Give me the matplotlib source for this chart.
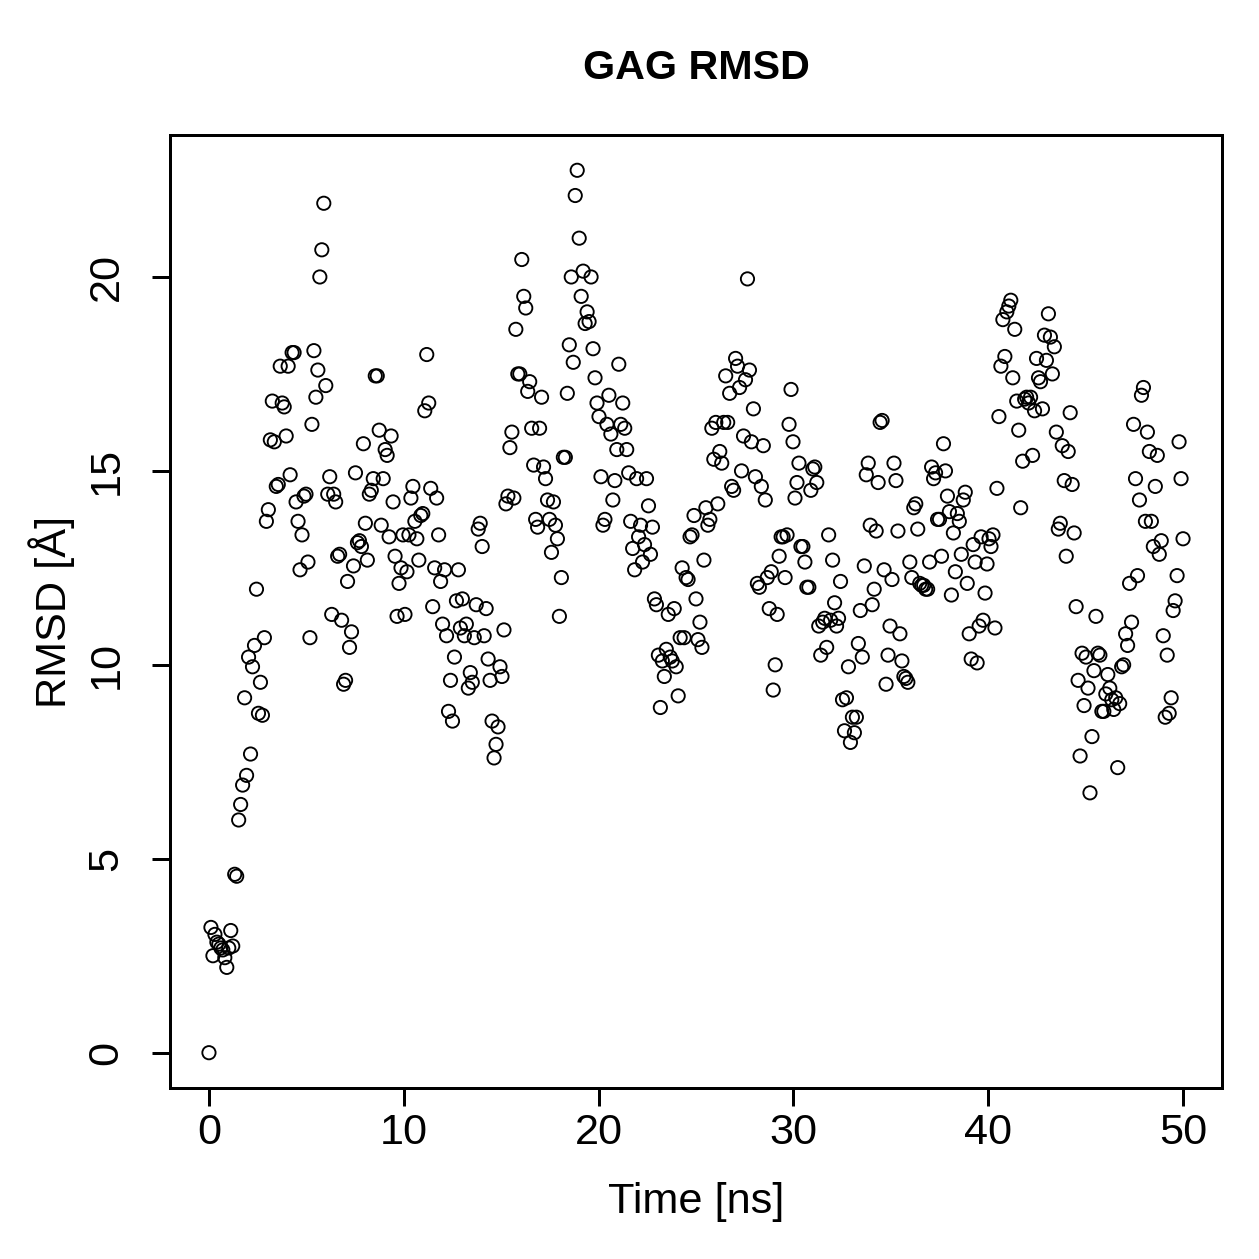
import numpy as np
import matplotlib
matplotlib.use("Agg")
import matplotlib.pyplot as plt

plt.rcParams['font.family'] = ['Liberation Sans', 'DejaVu Sans']

title = "GAG RMSD"
xlabel = "Time [ns]"
ylabel = "RMSD [Å]"
xticks = [0, 10, 20, 30, 40, 50]
yticks = [0, 5, 10, 15, 20]

rmsd = [
    0.0, 3.23, 2.5, 3.05, 2.85, 2.8, 2.7, 2.65, 2.45, 2.2,
    2.7, 3.15, 2.75, 4.6, 4.55, 6.0, 6.4, 6.9, 9.15, 7.15,
    10.2, 7.7, 9.95, 10.5, 11.95, 8.75, 9.55, 8.7, 10.7, 13.7,
    14.0, 15.8, 16.8, 15.75, 14.6, 14.65, 17.7, 16.75, 16.65, 15.9,
    17.7, 14.9, 18.05, 18.05, 14.2, 13.7, 12.45, 13.35, 14.35, 14.4,
    12.65, 10.7, 16.2, 18.1, 16.9, 17.6, 20.0, 20.7, 21.9, 17.2,
    14.4, 14.85, 11.3, 14.4, 14.2, 12.8, 12.85, 11.15, 9.5, 9.6,
    12.15, 10.45, 10.85, 12.55, 14.95, 13.15, 13.2, 13.05, 15.7, 13.65,
    12.7, 14.4, 14.5, 14.8, 17.45, 17.45, 16.05, 13.6, 14.8, 15.55,
    15.4, 13.3, 15.9, 14.2, 12.8, 11.25, 12.1, 12.5, 13.35, 11.3,
    12.4, 13.35, 14.3, 14.6, 13.7, 13.25, 12.7, 13.85, 13.9, 16.55,
    18.0, 16.75, 14.55, 11.5, 12.5, 14.3, 13.35, 12.15, 11.05, 12.45,
    10.75, 8.8, 9.6, 8.55, 10.2, 11.65, 12.45, 10.95, 11.7, 10.75,
    11.05, 9.4, 9.8, 9.55, 10.7, 11.55, 13.5, 13.65, 13.05, 10.75,
    11.45, 10.15, 9.6, 8.55, 7.6, 7.95, 8.4, 9.95, 9.7, 10.9,
    14.15, 14.35, 15.6, 16.0, 14.3, 18.65, 17.5, 17.5, 20.45, 19.5,
    19.2, 17.05, 17.3, 16.1, 15.15, 13.75, 13.55, 16.1, 16.9, 15.1,
    14.8, 14.25, 13.75, 12.9, 14.2, 13.6, 13.25, 11.25, 12.25, 15.35,
    15.35, 17.0, 18.25, 20.0, 17.8, 22.1, 22.75, 21.0, 19.5, 20.15,
    18.8, 19.1, 18.85, 20.0, 18.15, 17.4, 16.75, 16.4, 14.85, 13.6,
    13.75, 16.2, 16.95, 15.95, 14.25, 14.75, 15.55, 17.75, 16.2, 16.75,
    16.1, 15.55, 14.95, 13.7, 13.0, 12.45, 14.8, 13.3, 13.6, 12.65,
    13.1, 14.8, 14.1, 12.85, 13.55, 11.7, 11.55, 10.25, 8.9, 10.1,
    9.7, 10.4, 11.3, 10.2, 10.1, 11.45, 9.95, 9.2, 10.7, 12.5,
    10.7, 12.25, 12.2, 13.3, 13.35, 13.85, 11.7, 10.65, 11.1, 10.45,
    12.7, 14.05, 13.6, 13.75, 16.1, 15.3, 16.25, 14.15, 15.5, 15.2,
    16.25, 17.45, 16.25, 17.0, 14.6, 14.5, 17.9, 17.7, 17.15, 15.0,
    15.9, 17.35, 19.95, 17.6, 15.75, 16.6, 14.85, 12.1, 12.0, 14.6,
    15.65, 14.25, 12.25, 11.45, 12.4, 9.35, 10.0, 11.3, 12.8, 13.3,
    13.3, 12.25, 13.35, 16.2, 17.1, 15.75, 14.3, 14.7, 15.2, 13.05,
    13.05, 12.65, 12.0, 12.0, 14.5, 15.05, 15.1, 14.7, 11.0, 10.25,
    11.1, 11.2, 10.45, 13.35, 11.15, 12.7, 11.6, 11.0, 11.2, 12.15,
    9.1, 8.3, 9.15, 9.95, 8.0, 8.65, 8.25, 8.65, 10.55, 11.4,
    10.2, 12.55, 14.9, 15.2, 13.6, 11.55, 11.95, 13.45, 14.7, 16.25,
    16.3, 12.45, 9.5, 10.25, 11.0, 12.2, 15.2, 14.75, 13.45, 10.8,
    10.1, 9.7, 9.65, 9.55, 12.65, 12.25, 14.05, 14.15, 13.5, 12.1,
    12.05, 12.05, 11.95, 11.95, 12.65, 15.1, 14.8, 14.95, 13.75, 13.75,
    12.8, 15.7, 15.0, 14.35, 13.95, 11.8, 13.4, 12.4, 13.9, 13.7,
    12.85, 14.25, 14.45, 12.1, 10.8, 10.15, 13.1, 12.65, 10.05, 11.0,
    13.3, 11.15, 11.85, 12.6, 13.25, 13.05, 13.35, 10.95, 14.55, 16.4,
    17.7, 18.9, 17.95, 19.1, 19.25, 19.4, 17.4, 18.65, 16.8, 16.05,
    14.05, 15.25, 16.85, 16.9, 16.75, 16.9, 15.4, 16.55, 17.9, 17.4,
    17.3, 16.6, 18.5, 17.85, 19.05, 18.45, 17.5, 18.2, 16.0, 13.5,
    13.65, 15.65, 14.75, 12.8, 15.5, 16.5, 14.65, 13.4, 11.5, 9.6,
    7.65, 10.3, 8.95, 10.2, 9.4, 6.7, 8.15, 9.85, 11.25, 10.3,
    10.25, 8.8, 8.8, 9.25, 9.75, 9.4, 9.1, 8.85, 9.15, 7.35,
    9.0, 9.95, 10.0, 10.8, 10.5, 12.1, 11.1, 16.2, 14.8, 12.3,
    14.25, 16.95, 17.15, 13.7, 16.0, 15.5, 13.7, 13.05, 14.6, 15.4,
    12.85, 13.2, 10.75, 8.65, 10.25, 8.75, 9.15, 11.4, 11.65, 12.3,
    15.75, 14.8, 13.25,
]
t_start, t_end = 0.0, 50.0
time = np.linspace(t_start, t_end, len(rmsd))

W, H = 1259, 1259
dpi = 180
fig = plt.figure(figsize=(W / dpi, H / dpi), dpi=dpi)
L, R, T, B = 170, 1222, 135, 1088
ax = fig.add_axes([L / W, 1 - B / H, (R - L) / W, (B - T) / H])

ax.scatter(time, rmsd, s=5.3 ** 2, facecolors='none', edgecolors='black', linewidths=0.75)

def pad(lo, hi):
    r = hi - lo
    return lo - 0.04 * r, hi + 0.04 * r

ax.set_xlim(*pad(min(time), max(time)))
ax.set_ylim(*pad(min(rmsd), max(rmsd)))

ax.set_xticks(xticks)
ax.set_yticks(yticks)
ax.set_xticklabels([str(v) for v in xticks])
ax.set_yticklabels([str(v) for v in yticks], rotation=90, va='center')
ax.tick_params(direction='out', length=7.2, width=1.2, labelsize=17.3)
ax.tick_params(axis='x', pad=2.6)
ax.tick_params(axis='y', pad=10.2)
for s in ax.spines.values():
    s.set_linewidth(1.2)

fig.text((L + R) / 2 / W, 1 - 68 / H, title, ha='center', va='center', fontsize=16.5, fontweight='bold')
fig.text((L + R) / 2 / W, 1 - 1202 / H, xlabel, ha='center', va='center', fontsize=17.3)
fig.text(52 / W, 1 - (T + B) / 2 / H, ylabel, ha='center', va='center', fontsize=17.3, rotation=90)

fig.savefig("out.png", dpi=dpi)
